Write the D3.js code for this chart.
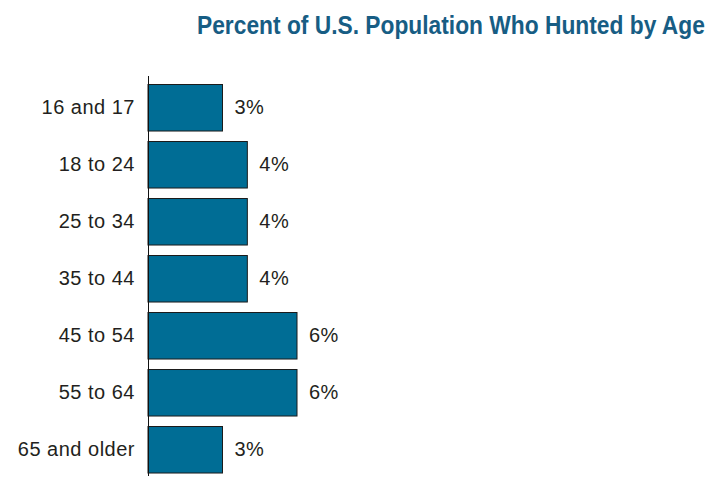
<!DOCTYPE html>
<html>
<head>
<meta charset="utf-8">
<script src="https://cdn.jsdelivr.net/npm/d3@7"></script>
<style>
  html, body { margin: 0; padding: 0; background: #fff; }
  svg { display: block; }
</style>
</head>
<body>
<svg id="chart" width="723" height="487"></svg>
<script>
const categories = ["16 and 17", "18 to 24", "25 to 34", "35 to 44", "45 to 54", "55 to 64", "65 and older"];
const values = [3, 4, 4, 4, 6, 6, 3];
const valueLabels = ["3%", "4%", "4%", "4%", "6%", "6%", "3%"];
const title = "Percent of U.S. Population Who Hunted by Age";

const svg = d3.select("#chart");

const x = d3.scaleLinear().domain([0, 6]).range([148, 297]);
const y = d3.scaleBand().domain(categories).range([78.76, 477.76]).paddingInner(0.184).paddingOuter(0.092);

// title (condensed by horizontal scaling to match the narrow typeface)
const titleG = svg.append("g");
const titleText = titleG.append("text")
  .attr("x", 0).attr("y", 0)
  .attr("text-anchor", "start")
  .attr("font-family", "'Liberation Sans Narrow', 'Arial Narrow', 'Liberation Sans', sans-serif")
  .attr("font-weight", "bold")
  .attr("font-size", 26)
  .attr("fill", "#175d84")
  .text(title);
const tw = titleText.node().getComputedTextLength();
const targetW = 508;
titleG.attr("transform", `translate(${705 - targetW},34) scale(${targetW / tw},1)`);

// bars
svg.append("g").selectAll("rect")
  .data(categories)
  .join("rect")
  .attr("x", x(0))
  .attr("y", d => y(d) + 0.5)
  .attr("width", (d, i) => x(values[i]) - x(0))
  .attr("height", y.bandwidth())
  .attr("fill", "#006d95")
  .attr("stroke", "#1b1b1b")
  .attr("stroke-width", 1);

// axis line
svg.append("line")
  .attr("x1", 148.5).attr("x2", 148.5)
  .attr("y1", 76).attr("y2", 476)
  .attr("stroke", "#111").attr("stroke-width", 1);

// category labels
svg.append("g").selectAll("text")
  .data(categories)
  .join("text")
  .attr("x", 135)
  .attr("y", d => y(d) + y.bandwidth() / 2)
  .attr("dy", "0.35em")
  .attr("text-anchor", "end")
  .attr("font-family", "'Liberation Sans', Arial, sans-serif")
  .attr("font-size", 20)
  .attr("letter-spacing", 0.5)
  .attr("fill", "#231f20")
  .text(d => d);

// value labels
svg.append("g").selectAll("text")
  .data(categories)
  .join("text")
  .attr("x", (d, i) => x(values[i]) + 12)
  .attr("y", d => y(d) + y.bandwidth() / 2)
  .attr("dy", "0.35em")
  .attr("font-family", "'Liberation Sans', Arial, sans-serif")
  .attr("font-size", 20)
  .attr("letter-spacing", 0.5)
  .attr("fill", "#231f20")
  .text((d, i) => valueLabels[i]);
</script>
</body>
</html>
